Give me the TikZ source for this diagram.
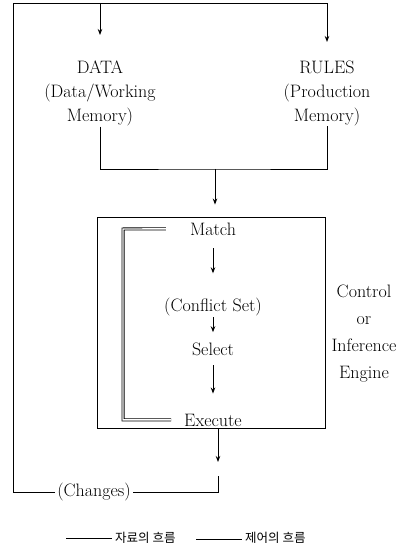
\documentclass[tikz,border=0pt]{standalone}
\usepackage{fontspec}
\newfontfamily\kr{Noto Sans CJK KR}
\usetikzlibrary{arrows.meta,calc}

\begin{document}
\begin{tikzpicture}[
  x=1pt, y=-1pt,
  txt/.style={inner sep=0pt, font=\fontsize{18}{24}\selectfont, align=center},
  wire/.style={line width=0.9pt},
  arrow/.style={-{Stealth[length=6pt,width=4.5pt]}, line width=0.9pt},
  ctrl/.style={double, double distance=1.4pt, line width=0.8pt},
  legend/.style={font=\kr\fontsize{12.5}{15}\selectfont, inner sep=3pt}
]
\useasboundingbox (0,0) rectangle (412,553);

% Top: the two memories
\node[txt, anchor=north] (data) at (100,61) {DATA\\(Data/Working\\Memory)};
\node[txt, anchor=north] (rules) at (327,61) {RULES\\(Production\\Memory)};

% Join under the memories
\coordinate (join) at (215,169);
\draw[wire] (data.south) |- (join) -| (rules.south);

% Middle: inference engine
\node[draw, wire, minimum width=228pt, minimum height=211pt, inner sep=0pt] (engine) at (211,322.5) {};
\draw[arrow, shorten >=12pt] (join) -- (join |- engine.north);

\node[txt, anchor=base] (match) at (213,235) {Match};
\node[txt, anchor=base] (conflict) at (213,311) {(Conflict Set)};
\node[txt, anchor=base] (select) at (213,355) {Select};
\node[txt, anchor=base] (execute) at (213,426) {Execute};

\draw[arrow, shorten <=13pt, shorten >=24pt] (match) -- (conflict);
\draw[arrow, shorten <=1.5pt, shorten >=10pt] (conflict) -- (select);
\draw[arrow, shorten <=10pt, shorten >=20pt] (select) -- (execute);

% Control loop
\coordinate (loop) at (123,229);
\draw[ctrl, shorten <=13pt, shorten >=24pt] (execute.west) -| (loop) -- (match.west);

\node[txt, anchor=north, font=\fontsize{18}{27}\selectfont] (engine_name) at (364,285) {Control\\or\\Inference\\Engine};

% Bottom: changes fed back to the memories
\coordinate (tip) at (218,462);
\draw[arrow] (engine.south -| tip) -- (tip);

\coordinate (back) at (218,476);
\coordinate (corner) at (13,3);
\node[txt, inner sep=2pt] (changes) at (94,492) {(Changes)};
\draw[wire] (back) |- (changes);
\draw[arrow, shorten >=19pt] (changes) -| (corner) -| (rules.north);
\draw[arrow, shorten >=26pt] (corner -| data.north) -- (data.north);

% Legend
\node[legend, anchor=west] (data_flow) at (112,538) {자료의 흐름};
\coordinate (data_key) at (66,538);
\draw[wire] (data_key) -- (data_flow.west);
\node[legend, anchor=west] (ctrl_flow) at (242,538) {제어의 흐름};
\coordinate (ctrl_key) at (196,538);
\draw[ctrl] (ctrl_key) -- (ctrl_flow.west);

\end{tikzpicture}
\end{document}
